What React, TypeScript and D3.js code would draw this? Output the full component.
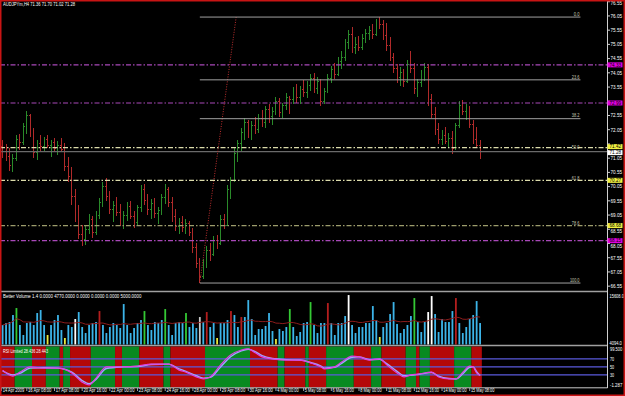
import React from 'react';
import * as d3 from 'd3';

const W = 625;
const H = 396;

const titleText = 'AUDJPYm,H4 71.36 71.70 71.02 71.28';
const volTitle = 'Better Volume 1.4 0.0000 4770.0000 0.0000 0.0000 0.0000 5000.0000';
const rsiTitle = 'RSI Limited 28.436 28.443';

const firstOpen = 71.45;
const highs = [71.70,71.55,71.40,71.20,71.85,71.90,72.30,72.70,72.60,72.10,71.70,71.85,71.80,71.85,
71.70,71.75,71.65,71.75,71.60,71.10,70.75,69.95,69.40,68.70,68.70,69.10,69.00,69.20,69.65,70.20,70.35,69.90,69.55,69.70,69.45,69.20,69.50,69.55,69.20,69.40,70.10,70.15,69.80,69.60,69.65,69.35,69.80,70.15,70.05,69.70,69.25,68.95,69.00,68.90,68.85,68.60,68.05,67.55,67.50,67.95,68.05,68.30,68.35,69.05,69.10,70.10,70.40,71.40,
71.70,72.10,72.45,72.40,72.35,72.50,72.60,72.75,72.90,72.95,72.85,73.20,73.15,73.00,73.35,
73.25,73.55,73.65,73.60,73.80,73.75,74.00,74.05,73.90,73.85,73.50,
74.00,74.30,74.40,74.60,74.80,75.25,75.55,75.65,75.30,75.35,75.40,75.60,75.70,75.75,75.95,76.02,75.90,75.80,75.30,74.75,74.35,74.25,74.20,74.50,74.80,74.40,73.85,74.15,
74.40,74.35,73.30,72.85,72.30,72.05,72.15,71.95,72.00,72.30,73.05,73.10,72.95,72.90,72.40,72.15,71.70];
const lows = [71.05,70.95,70.60,70.55,70.95,71.35,71.50,71.90,71.80,71.05,71.00,71.30,71.25,71.40,
71.10,71.30,71.15,71.25,70.60,70.20,69.40,68.80,68.20,67.95,68.00,68.40,68.25,68.35,68.90,69.35,69.55,69.10,68.80,69.00,68.65,68.55,68.85,68.90,68.60,68.70,69.15,69.40,69.05,68.90,68.95,68.75,69.05,69.45,69.35,68.80,68.50,68.40,68.45,68.40,68.30,67.70,67.20,66.65,66.80,67.20,67.45,67.60,67.85,68.00,68.55,68.65,69.60,70.20,
70.90,71.30,71.70,71.75,71.70,71.90,71.95,72.15,72.10,72.30,72.20,72.55,72.50,72.45,72.75,
72.60,72.95,73.00,72.95,73.20,73.15,73.40,73.35,73.30,72.90,72.95,
73.35,73.70,73.85,73.95,74.20,74.45,74.90,74.75,74.70,74.80,74.85,75.10,75.20,75.25,75.35,75.60,75.20,74.80,74.45,74.05,73.70,73.60,73.55,73.70,74.05,73.30,73.20,73.55,
73.75,72.90,72.45,71.85,71.55,71.50,71.55,71.40,71.20,71.35,72.10,72.55,72.40,72.10,71.55,71.40,71.02];
const closes = [71.30,71.10,70.80,71.05,71.70,71.60,72.15,72.55,71.95,71.25,71.55,71.45,71.70,71.50,
71.60,71.40,71.50,71.35,70.75,70.40,69.70,69.10,68.35,68.20,68.55,68.90,68.45,69.05,69.50,70.05,69.70,69.25,69.40,69.15,68.80,69.05,69.35,69.00,68.80,69.30,69.95,69.55,69.25,69.45,69.10,69.20,69.65,69.95,69.50,69.00,68.65,68.80,68.60,68.75,68.45,67.90,67.35,66.90,67.35,67.80,67.65,68.15,68.05,68.90,68.70,69.95,70.25,71.20,
71.55,71.95,72.30,71.95,72.20,72.05,72.45,72.30,72.75,72.50,72.70,73.05,72.65,72.90,73.20,
73.10,73.40,73.20,73.45,73.35,73.60,73.85,73.50,73.75,73.05,73.40,
73.85,74.15,74.00,74.45,74.60,75.10,75.40,74.95,75.05,74.95,75.25,75.45,75.55,75.40,75.85,75.75,75.35,75.00,74.60,74.20,73.90,74.05,73.75,74.35,74.20,73.50,73.70,73.95,
74.25,73.10,72.60,72.05,71.70,71.85,71.65,71.75,71.40,72.20,72.90,72.70,72.80,72.25,71.70,71.50,71.28];

const volumes = [8234,8694,8924,10534,12144,8234,5934,8694,8924,8234,10994,11684,8234,5934,
8234,9384,10534,7084,5244,8234,7774,9614,11224,7774,6394,8234,8694,8924,11454,8234,6394,7774,8694,8234,7544,13064,8234,6394,7544,8694,9384,11454,8234,7084,8924,8694,9384,11914,8234,5934,8694,8924,8694,10994,7774,8694,7544,10074,8924,11224,7774,8694,5244,8694,8694,9384,11454,10534,
7774,10074,10074,13984,9614,5934,7314,7314,8004,10994,6854,5014,7314,6854,7774,
11914,7774,5704,6624,8694,8924,13524,8234,6394,8694,8694,
13294,8694,5934,8694,8694,10304,15134,8234,6394,7774,7774,8694,8694,12604,9384,5474,7774,8694,10764,13524,8464,6394,7314,8234,10304,14444,8924,6624,
8924,11224,14904,10764,6624,9614,8924,8924,11454,14444,8694,6394,7774,9614,10534,13754,8694];
const volSpecialIdx = [4,13,18,21,28,41,47,53,57,59,62,66,69,79,83,89,94,100,109,119,123,124,131];
const volSpecialCol = ['g','y','y','w','r','g','g','g','l','r','y','r','r','y','g','g','r','w','y','g','w','w','r'];
const volColors: Record<string, string> = { b: '#3cb4e8', g: '#34c834', y: '#e8e83c', w: '#ffffff', r: '#b41e1e', l: '#c8c8c8' };

const rsiIdx = [0,3,5,8,12,16,20,23,25,27,30,35,39,43,48,51,53,56,58,60,63,66,69,71,73,75,78,82,86,89,92,93,96,98,101,103,106,109,111,114,116,118,120,124,126,129,131,133,135,136,137,138];
const rsiVal = [42,27,37,50,47,47,35,12,5,22,50,50,52,57,57,42,37,25,20,25,55,80,92,95,85,75,70,67,67,60,50,45,50,62,77,75,67,70,55,35,25,30,32,37,25,20,20,37,52,50,35,28.4];
const rsiSig = [40,30,34,47,48,47,37,16,8,19,46,50,51,56,57,45,39,28,22,24,50,76,90,94,88,78,71,68,67,61,52,47,49,59,74,75,68,69,58,39,28,29,31,36,27,21,20,33,49,50,38,28.4];
const rsiLevels = [70, 50, 30];
const bandStart = [0,4,9,13,17,18,20,26,33,35,40,47,49,59,72,80,82,88,89,94,102,107,110,117,120,121,124,131,136];
const bandCol = ['r','g','r','g','r','g','r','g','r','g','r','g','r','g','r','g','r','g','r','g','r','g','r','g','r','g','r','g','r'];

const priceTicks = [66.55,67.05,67.55,68.05,68.55,69.05,69.55,70.05,70.55,71.05,71.55,72.05,72.55,73.05,73.55,74.05,74.55,75.05,75.55,76.05,76.55];
const timeLabels = ['14 Apr 2009','16 Apr 08:00','17 Apr 08:00','20 Apr 16:00','22 Apr 00:00','23 Apr 08:00','24 Apr 16:00','28 Apr 00:00','29 Apr 08:00','30 Apr 16:00','4 May 00:00','5 May 08:00','6 May 16:00','8 May 00:00','11 May 08:00','12 May 16:00','14 May 00:00','15 May 08:00'];
const timeIdx = [-0.3,7,15,23,31,39,47,55,63,71,79,87,95,103,111,119,127,135];

const hLinePrices = [74.33, 72.99, 68.15, 71.42, 70.27, 68.68];
const hLineKinds = ['m', 'm', 'm', 'y', 'y', 'o'];
const fibLevels = [0, 23.6, 38.2, 50, 61.8, 78.6, 100];
const fibSolid = [true, true, true, false, false, false, true];
const fibLow = 66.66;
const fibHigh = 76.01;
const fibStartIdx = 57;
const fibEndIdx = 167;
const fibDiagEndIdx = 67.5;
const bidPrice = 71.28;
const volAxisLabels = ['15608.0', '4094.0'];
const volAxisValues = [15608, 4094];
const rsiAxisLabels = ['99.500', '70', '50', '30', '-1.287'];
const rsiAxisValues = [99.5, 70, 50, 30, -1.287];

const FONT = 'Liberation Sans, Arial, sans-serif';

function T({ x, y, s, k = 2.05, fill = '#ffffff', anchor = 'start', size = 5 }: any) {
  return (
    <text x={x} y={y} fontSize={size} fontFamily={FONT} fill={fill} textAnchor={anchor}
      textLength={s.length * k} lengthAdjust="spacingAndGlyphs">{s}</text>
  );
}

export default function App() {
  const n = closes.length;
  const x = d3.scaleLinear().domain([0, n - 1]).range([2.6, 480.1]);
  const step = x(1) - x(0);
  const yP = d3.scaleLinear().domain([66.38, 76.54]).range([291, 2]);
  const yV = d3.scaleLinear().domain([4094, 15608]).range([343, 293]);
  const yR = d3.scaleLinear().domain([-1.287, 99.5]).range([387.5, 347]);
  const axisX = 607.5;

  const opens = closes.map((c, i) => (i === 0 ? firstOpen : closes[i - 1]));
  const volCol = volumes.map((_, i) => {
    const j = volSpecialIdx.indexOf(i);
    return volColors[j >= 0 ? volSpecialCol[j] : 'b'];
  });
  const volMA = volumes.map((_, i) => d3.mean(volumes.slice(Math.max(0, i - 19), i + 1)) as number);
  const maLine = d3.line<number>().x((_, i) => x(i)).y((v) => yV(v))(volMA) || '';

  const rsiPts = rsiIdx.map((idx, i) => [x(idx), yR(rsiVal[i])] as [number, number]);
  const sigPts = rsiIdx.map((idx, i) => [x(idx), yR(rsiSig[i])] as [number, number]);
  const curve = d3.line().curve(d3.curveMonotoneX);
  const rsiPath = curve(rsiPts) || '';
  const sigPath = curve(sigPts) || '';

  const lineColor: Record<string, string> = { m: '#a848b8', y: '#dcdcaa', o: '#9c9c6c' };
  const boxColor: Record<string, string> = { m: '#e000e0', y: '#f0f040', o: '#f0f040' };

  const fibPrice = (lv: number) => fibHigh - (lv / 100) * (fibHigh - fibLow);

  // boxes on the price axis (price lines + bid), pushed apart when they touch
  const boxes = hLinePrices.map((p, i) => ({ p, fill: boxColor[hLineKinds[i]], y: yP(p) }))
    .concat([{ p: bidPrice, fill: '#ffffff', y: yP(bidPrice) }])
    .sort((a, b) => a.y - b.y);
  for (let i = 1; i < boxes.length; i++) {
    const gap = boxes[i].y - boxes[i - 1].y;
    if (gap < 6) {
      const d = (6 - gap) / 2;
      boxes[i - 1].y -= d;
      boxes[i].y += d;
    }
  }
  const tickLabels = priceTicks
    .map((p) => {
      const y0 = yP(p);
      let y = y0;
      let hidden = false;
      boxes.forEach((b) => {
        const d = y0 - b.y;
        if (Math.abs(d) < 2.5) hidden = true;
        else if (d >= 2.5 && d < 5.8) y = b.y + 5.8;
        else if (d <= -2.5 && d > -5.8) hidden = true;
      });
      return { p, y, y0, hidden };
    });

  return (
    <svg width={W} height={H} style={{ position: 'absolute', left: 0, top: 0, background: '#000' }}>
      <rect x={0} y={0} width={W} height={H} fill="#000" />

      {/* RSI background bands */}
      {bandStart.map((s, i) => {
        const e = i < bandStart.length - 1 ? bandStart[i + 1] : n;
        const x0 = Math.max(0, x(s) - step / 2);
        const x1 = x(e) - step / 2;
        return <rect key={'b' + i} x={x0} y={346.5} width={x1 - x0} height={41}
          fill={bandCol[i] === 'r' ? '#b40808' : '#088a20'} />;
      })}
      {rsiLevels.map((lv) => (
        <line key={'rl' + lv} x1={0} x2={axisX} y1={yR(lv)} y2={yR(lv)} stroke="#5a5adc" strokeWidth={1.2} />
      ))}
      <path d={sigPath} fill="none" stroke="#9aa8ff" strokeWidth={1.4} />
      <path d={rsiPath} fill="none" stroke="#e040e0" strokeWidth={1.2} />

      {/* Volume bars */}
      {volumes.map((v, i) => (
        <rect key={'v' + i} x={x(i) - 0.9} y={yV(v)} width={1.8} height={344.5 - yV(v)} fill={volCol[i]} />
      ))}
      <path d={maLine} fill="none" stroke="#8c1c1c" strokeWidth={1} />

      {/* Price bars */}
      <g shapeRendering="crispEdges">
        {closes.map((c, i) => {
          const col = c >= opens[i] ? '#2a8a2a' : '#b02a2a';
          const xi = x(i);
          return (
            <g key={'p' + i} stroke={col} strokeWidth={1}>
              <line x1={xi} x2={xi} y1={yP(highs[i])} y2={yP(lows[i])} />
              <line x1={xi - 1.2} x2={xi} y1={yP(opens[i])} y2={yP(opens[i])} />
              <line x1={xi} x2={xi + 1.2} y1={yP(c)} y2={yP(c)} />
            </g>
          );
        })}
      </g>

      {/* bid line */}
      <line x1={0} x2={axisX} y1={yP(bidPrice)} y2={yP(bidPrice)} stroke="#6a6a6a" strokeWidth={1.3} />

      {/* Fibonacci */}
      <line x1={x(fibStartIdx)} y1={yP(fibLow)} x2={x(fibDiagEndIdx)} y2={yP(fibHigh)}
        stroke="#c03030" strokeWidth={1} strokeDasharray="1,1.5" />
      {fibLevels.map((lv, i) => (
        <g key={'f' + i}>
          {fibSolid[i] && (
            <line x1={x(fibStartIdx)} x2={x(fibEndIdx)} y1={yP(fibPrice(lv))} y2={yP(fibPrice(lv))}
              stroke="#a0a0a0" strokeWidth={1} />
          )}
          <T x={x(fibEndIdx) - 1} y={yP(fibPrice(lv)) - 1.2} s={lv.toFixed(1)} anchor="end" fill="#c8c8b4" k={1.9} size={4.6} />
        </g>
      ))}

      {/* horizontal lines */}
      {hLinePrices.map((p, i) => (
        <line key={'h' + i} x1={0} x2={axisX} y1={yP(p)} y2={yP(p)} stroke={lineColor[hLineKinds[i]]}
          strokeWidth={1.1} strokeDasharray="5,2,1.5,2" />
      ))}

      {/* panel separators */}
      <line x1={0} x2={axisX} y1={291.5} y2={291.5} stroke="#a0a0a0" strokeWidth={1.5} />
      <line x1={0} x2={axisX} y1={345.5} y2={345.5} stroke="#a0a0a0" strokeWidth={1.5} />
      <line x1={0} x2={axisX} y1={387.8} y2={387.8} stroke="#c8c8c8" strokeWidth={1} />
      <line x1={axisX} x2={axisX} y1={0} y2={388} stroke="#d0d0d0" strokeWidth={1} />

      {/* price axis */}
      {tickLabels.map((t) => (
        <g key={'pt' + t.p}>
          <line x1={axisX} x2={axisX + 2.5} y1={t.y0} y2={t.y0} stroke="#d0d0d0" />
          {!t.hidden && <T x={610.5} y={Math.max(t.y + 1.8, 4.6)} s={t.p.toFixed(2)} k={2.3} size={4.6} />}
        </g>
      ))}
      {boxes.map((b, i) => (
        <g key={'hb' + i}>
          <rect x={axisX} y={b.y - 2.5} width={15} height={5} fill={b.fill} />
          <T x={609.5} y={b.y + 1.7} s={b.p.toFixed(2)} k={2.3} fill="#000" size={4.6} />
        </g>
      ))}

      {/* volume axis */}
      {volAxisValues.map((v, i) => (
        <T key={'va' + i} x={609.5} y={i === 0 ? 297.6 : yV(v) + 1.6} s={volAxisLabels[i]} k={2.05} size={4.6} />
      ))}
      {/* rsi axis */}
      {rsiAxisValues.map((v, i) => (
        <T key={'ra' + i} x={610} y={Math.min(Math.max(yR(v) + 1.8, 350.8), 386.5)} s={rsiAxisLabels[i]} k={2.05} size={4.6} />
      ))}

      {/* time axis */}
      {timeIdx.map((ti, i) => (
        <g key={'t' + i}>
          <line x1={x(ti)} x2={x(ti)} y1={388} y2={391} stroke="#c8c8c8" strokeWidth={0.8} />
          <T x={x(ti) + 1.2} y={392.3} s={timeLabels[i]} k={1.95} />
        </g>
      ))}

      {/* titles */}
      <T x={3} y={5.8} s={titleText} k={2.12} />
      <T x={3} y={297.8} s={volTitle} k={2.13} />
      <T x={3} y={352.8} s={rsiTitle} k={1.8} />

      {/* window frame */}
      <rect x={0.75} y={0.75} width={W - 1.5} height={H - 1.5} fill="none" stroke="#c81414" strokeWidth={1.5} />
    </svg>
  );
}
